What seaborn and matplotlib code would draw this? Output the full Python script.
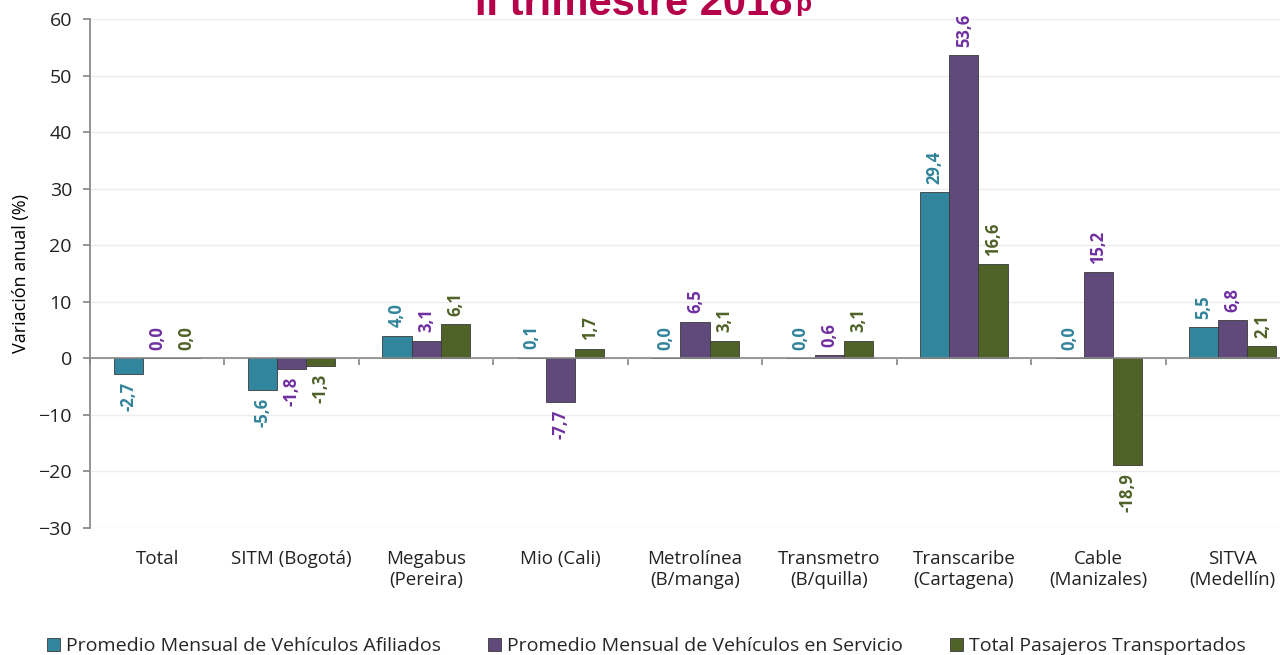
import numpy as np
import pandas as pd
import seaborn as sns
import matplotlib.pyplot as plt
from matplotlib.patches import Patch

categories = ["Total", "SITM (Bogotá)", "Megabus\n(Pereira)", "Mio (Cali)",
              "Metrolínea\n(B/manga)", "Transmetro\n(B/quilla)",
              "Transcaribe\n(Cartagena)", "Cable\n(Manizales)", "SITVA\n(Medellín)"]
series = ["Promedio Mensual de Vehículos Afiliados",
          "Promedio Mensual de Vehículos en Servicio",
          "Total Pasajeros Transportados"]
afiliados = [-2.7, -5.6, 4.0, 0.1, 0.0, 0.0, 29.4, 0.0, 5.5]
servicio = [0.0, -1.8, 3.1, -7.7, 6.5, 0.6, 53.6, 15.2, 6.8]
pasajeros = [0.0, -1.3, 6.1, 1.7, 3.1, 3.1, 16.6, -18.9, 2.1]

bar_colors = ["#31859C", "#604A7B", "#4F6228"]
label_colors = ["#31849B", "#7030A0", "#4F6228"]

df = pd.DataFrame({
    "categoria": categories * 3,
    "serie": [s for s in series for _ in categories],
    "valor": afiliados + servicio + pasajeros,
})

sns.set_theme(style="white")
plt.rcParams["font.family"] = ["Open Sans", "DejaVu Sans"]

fig = plt.figure(figsize=(12.8, 6.55), dpi=100)
ax = fig.add_axes([90 / 1280, 1 - 528 / 655, 1210 / 1280, 509 / 655])

sns.barplot(data=df, x="categoria", y="valor", hue="serie", order=categories,
            hue_order=series, palette=bar_colors, width=0.65, ax=ax,
            edgecolor="#3a3a3a", linewidth=0.6, saturation=1, legend=False)

ax.set_ylim(-30, 60)
ax.set_xlim(-0.5, 8.5)
ax.set_yticks(range(-30, 61, 10))
ax.yaxis.grid(True, color="#ECECEC", linewidth=1)
ax.set_axisbelow(True)
ax.set_xlabel("")
ax.set_ylabel("Variación anual (%)", fontsize=13, color="#000000", labelpad=6)
ax.tick_params(axis="y", labelsize=14, length=5, color="#888888", left=True,
               labelcolor="#222222", pad=8)
ax.tick_params(axis="x", labelsize=13.5, length=0, pad=16, labelcolor="#222222")
for side in ["top", "right", "bottom"]:
    ax.spines[side].set_visible(False)
ax.spines["left"].set_color("#888888")

# zero line with ticks at category boundaries
ax.axhline(0, color="#888888", linewidth=1.2, zorder=3)
sec = ax.secondary_xaxis(30 / 90)
sec.set_xticks(np.arange(-0.5, 9, 1))
sec.set_xticklabels([])
sec.tick_params(axis="x", direction="out", length=5, color="#888888")
sec.spines["bottom"].set_visible(False)

for cont, col in zip(ax.containers, label_colors):
    for bar in cont:
        h = bar.get_height()
        x = bar.get_x() + bar.get_width() / 2
        txt = f"{h:.1f}".replace(".", ",")
        if h < 0:
            ax.annotate(txt, (x, h), xytext=(0, -6), textcoords="offset points",
                        rotation=90, ha="center", va="top", color=col,
                        fontsize=12, fontweight="bold")
        else:
            ax.annotate(txt, (x, h), xytext=(0, 6), textcoords="offset points",
                        rotation=90, ha="center", va="bottom", color=col,
                        fontsize=12, fontweight="bold")

# title (clipped at the top, as in the source)
title = fig.text(0.495, 1 - 15 / 655, "II trimestre 2018", ha="center",
                 va="baseline", fontsize=30, fontweight="bold", color="#B5004A",
                 family="Liberation Sans")
fig.canvas.draw()
bb = title.get_window_extent()
fig.text((bb.x1 + 3) / 1280, 1 - 11 / 655, "p", ha="left", va="baseline",
         fontsize=19, fontweight="bold", color="#B5004A", family="Liberation Sans")

handles = [Patch(facecolor=c, edgecolor="#3a3a3a", linewidth=0.6) for c in bar_colors]
fig.legend(handles, series, loc="lower center", bbox_to_anchor=(0.505, -0.027),
           ncol=3, frameon=False, fontsize=14, handlelength=0.7,
           handleheight=0.7, handletextpad=0.3, columnspacing=2.4)

fig.savefig("out.png", dpi=100)
